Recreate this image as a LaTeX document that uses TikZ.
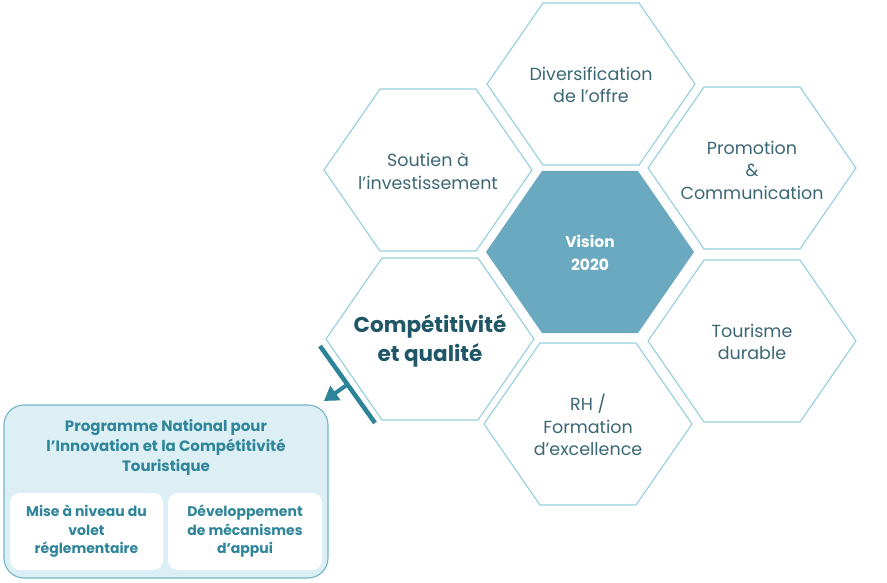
\documentclass[tikz,border=0pt]{standalone}
\usepackage{fontspec}
\setmainfont{Poppins}
\usepackage{tikz}
\usetikzlibrary{arrows.meta,positioning}
\definecolor{hexbd}{HTML}{93CEDD}
\definecolor{hexfill}{HTML}{6AA9BF}
\definecolor{hexink}{HTML}{3B6774}
\definecolor{deepink}{HTML}{1F5766}
\definecolor{panelbg}{HTML}{DCEFF5}
\definecolor{panelbd}{HTML}{72B6C9}
\definecolor{paneltxt}{HTML}{2F8599}
\definecolor{arrowteal}{HTML}{2B8499}
\tikzset{
  hexlabel/.style={align=center,text=hexink,inner sep=0pt,
                   font=\fontsize{17.5}{22.5}\selectfont},
  hexcore/.style={align=center,text=white,inner sep=0pt,
                  font=\fontsize{15.5}{23}\selectfont\bfseries},
  hexbig/.style={align=center,text=deepink,inner sep=0pt,
                 font=\fontsize{21.5}{29}\selectfont\bfseries},
  pics/hexcell/.style={code={%
      \draw[draw=hexbd,line width=1.1pt,#1]
        (-104,0)--(-48,81)--(48,81)--(104,0)--(48,-81)--(-48,-81)--cycle;}},
  pics/hexcell/.default={},
  panel/.style={draw=panelbd,fill=panelbg,rounded corners=20pt,
                line width=1.1pt,inner sep=0pt},
  paneltitle/.style={align=center,text=paneltxt,inner sep=0pt,
                     font=\fontsize{15}{20}\selectfont\bfseries},
  subcard/.style={fill=white,rounded corners=10pt,inner sep=0pt,align=center,
                  text=paneltxt,font=\fontsize{14}{18.5}\selectfont\bfseries},
  barline/.style={draw=arrowteal,line width=4.5pt},
  arrowpnict/.style={-{Triangle[length=14pt,width=17pt]},draw=arrowteal,
                     fill=arrowteal,line width=4pt},
}
\begin{document}
\begin{tikzpicture}[x=1pt,y=-1pt]
  \useasboundingbox (0,0) rectangle (887,583);
  % honeycomb
  \pic at (591,84) {hexcell};
  \node[hexlabel] (div) at (591,85) {Diversification\\de l’offre};
  \pic at (428,170) {hexcell};
  \node[hexlabel] (sou) at (428,171) {Soutien à\\l’investissement};
  \pic at (752,168) {hexcell};
  \node[hexlabel] (pro) at (752,170) {Promotion\\\&\\Communication};
  \pic at (590,252) {hexcell={fill=hexfill,draw=none}};
  \node[hexcore] (vis) at (590,253) {Vision\\2020};
  \pic at (430,339) {hexcell};
  \node[hexbig] (cmp) at (430,341) {Compétitivité\\et qualité};
  \pic at (752,341) {hexcell};
  \node[hexlabel] (tou) at (752,342) {Tourisme\\durable};
  \pic at (588,424) {hexcell};
  \node[hexlabel] (rh) at (588,425) {RH /\\Formation\\d’excellence};
  % programme box
  \node[panel,minimum width=324pt,minimum height=173pt] (pnict) at (166,491.5) {};
  \node[paneltitle] (ptitle) at (166,447)
    {Programme National pour\\l’Innovation et la Compétitivité\\Touristique};
  \node[subcard,minimum width=153pt,minimum height=77pt] (reg) at (86.5,531.5)
    {Mise à niveau du\\volet\\réglementaire};
  \node[subcard,minimum width=154pt,minimum height=77pt] (meca) at (245,531.5)
    {Développement\\de mécanismes\\d’appui};
  % link from the hexagon to the box
  \coordinate (barA) at (320,346);
  \coordinate (barB) at (375,423);
  \coordinate (barM) at (347.5,384.5);
  \coordinate (tip) at (324,401);
  \draw[barline] (barA) -- (barB);
  \draw[arrowpnict] (barM) -- (tip);
\end{tikzpicture}
\end{document}
